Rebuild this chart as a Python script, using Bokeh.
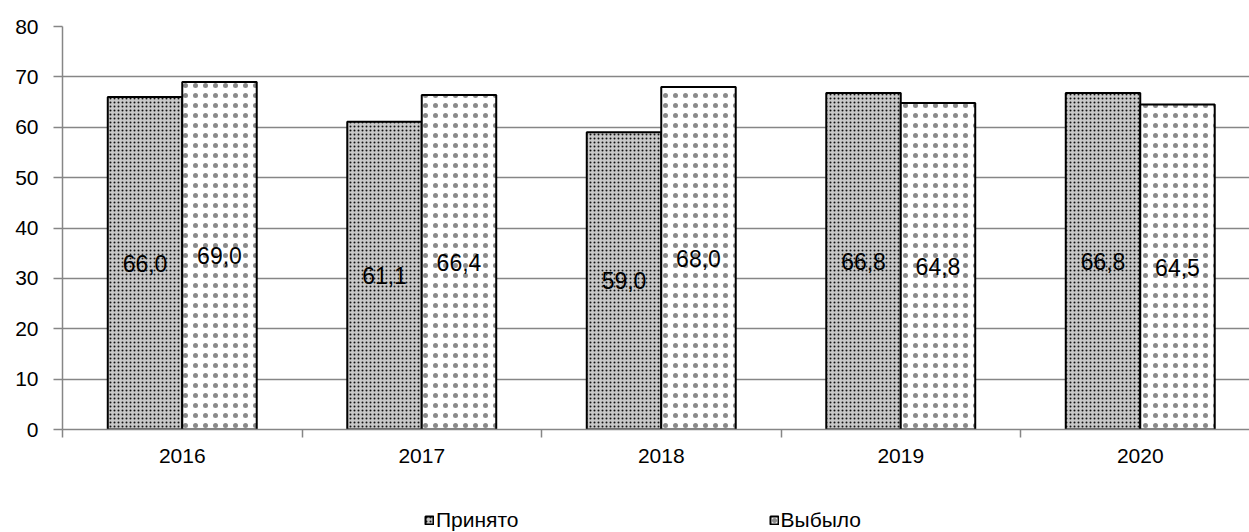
from bokeh.plotting import figure
from bokeh.layouts import column
from bokeh.models import Range1d, FixedTicker, Legend, LegendItem, ColumnDataSource
from bokeh.embed import file_html
from bokeh.resources import INLINE
from bokeh.core.properties import value

years = ["2016", "2017", "2018", "2019", "2020"]
prinyato = [66.0, 61.1, 59.0, 66.8, 66.8]
vybylo = [69.0, 66.4, 68.0, 64.8, 64.5]
y_ticks = [0, 10, 20, 30, 40, 50, 60, 70, 80]
series_names = ["Принято", "Выбыло"]

FONT = "Liberation Sans"
BW = 0.311

STYLE1 = dict(fill_color="#c8c8c8", line_color="black", line_width=2,
              hatch_pattern="dot", hatch_scale=4, hatch_color="#111111")
STYLE2 = dict(fill_color="white", line_color="black", line_width=2,
              hatch_pattern="dot", hatch_scale=10, hatch_color="#8a8a8a")

xc = [i + 0.5 for i in range(len(years))]
fmt = lambda v: f"{v:.1f}".replace(".", ",")

src1 = ColumnDataSource(dict(x=[c - BW / 2 for c in xc], top=prinyato,
                             ly=[v / 2 for v in prinyato], lab=[fmt(v) for v in prinyato]))
src2 = ColumnDataSource(dict(x=[c + BW / 2 for c in xc], top=vybylo,
                             ly=[v / 2 for v in vybylo], lab=[fmt(v) for v in vybylo]))

p = figure(frame_width=1187, frame_height=403, output_backend="svg", toolbar_location=None,
           x_range=Range1d(0, 1187 / 239.5), y_range=Range1d(0, 80),
           min_border_left=62, min_border_top=26, min_border_right=0, min_border_bottom=52)
p.outline_line_color = None
p.background_fill_color = "white"

p.vbar(x="x", top="top", width=BW, bottom=0, source=src1, **STYLE1)
p.vbar(x="x", top="top", width=BW, bottom=0, source=src2, **STYLE2)

for s in (src1, src2):
    p.text(x="x", y="ly", text="lab", source=s, text_align="center", text_baseline="middle",
           text_font=value(FONT), text_font_size="23px", text_color="black")

# y axis
p.yaxis.ticker = FixedTicker(ticks=y_ticks)
p.yaxis.axis_line_color = "#868686"
p.yaxis.axis_line_width = 1.5
p.yaxis.major_tick_line_color = "#868686"
p.yaxis.major_tick_line_width = 1.5
p.yaxis.major_tick_out = 9
p.yaxis.major_tick_in = 0
p.yaxis.minor_tick_line_color = None
p.yaxis.major_label_text_font = FONT
p.yaxis.major_label_text_font_size = "21px"
p.yaxis.major_label_text_color = "black"
p.yaxis.major_label_standoff = 15

# x axis
p.xaxis.ticker = FixedTicker(ticks=xc, minor_ticks=list(range(len(years) + 1)))
p.xaxis.major_label_overrides = {c: y for c, y in zip(xc, years)}
p.xaxis.axis_line_color = "#868686"
p.xaxis.axis_line_width = 1.5
p.xaxis.major_tick_line_color = None
p.xaxis.major_tick_out = 6
p.xaxis.major_tick_in = 0
p.xaxis.minor_tick_line_color = "#868686"
p.xaxis.minor_tick_line_width = 1.5
p.xaxis.minor_tick_out = 8
p.xaxis.minor_tick_in = 0
p.xaxis.major_label_text_font = FONT
p.xaxis.major_label_text_font_size = "21px"
p.xaxis.major_label_text_color = "black"
p.xaxis.major_label_standoff = 11

p.xgrid.grid_line_color = None
p.ygrid.ticker = FixedTicker(ticks=y_ticks)
p.ygrid.grid_line_color = "#868686"
p.ygrid.grid_line_width = 1.5

# legend strip below the chart (its glyphs use the same data, kept far out of view)
lg = figure(width=1249, height=51, output_backend="svg", toolbar_location=None,
            x_range=Range1d(-1000, -999), y_range=Range1d(1000, 1001),
            min_border=0, min_border_left=0, min_border_right=0,
            min_border_top=0, min_border_bottom=0)
lg.axis.visible = False
lg.grid.visible = False
lg.outline_line_color = None
d1 = lg.vbar(x="x", top="top", width=BW, bottom=0, source=src1, **STYLE1)
d2 = lg.vbar(x="x", top="top", width=BW, bottom=0, source=src2, **STYLE2)
legend = Legend(items=[LegendItem(label=series_names[0], renderers=[d1]),
                       LegendItem(label=series_names[1], renderers=[d2])],
                orientation="horizontal", location=(362, 0), spacing=250,
                glyph_width=10, glyph_height=10, label_standoff=2, label_height=20,
                label_text_font=FONT, label_text_font_size="21px", label_text_color="black",
                border_line_color=None, background_fill_alpha=0, margin=0, padding=0)
lg.add_layout(legend)

layout = column(p, lg, spacing=0)
open("out.html", "w").write(file_html(layout, INLINE))
